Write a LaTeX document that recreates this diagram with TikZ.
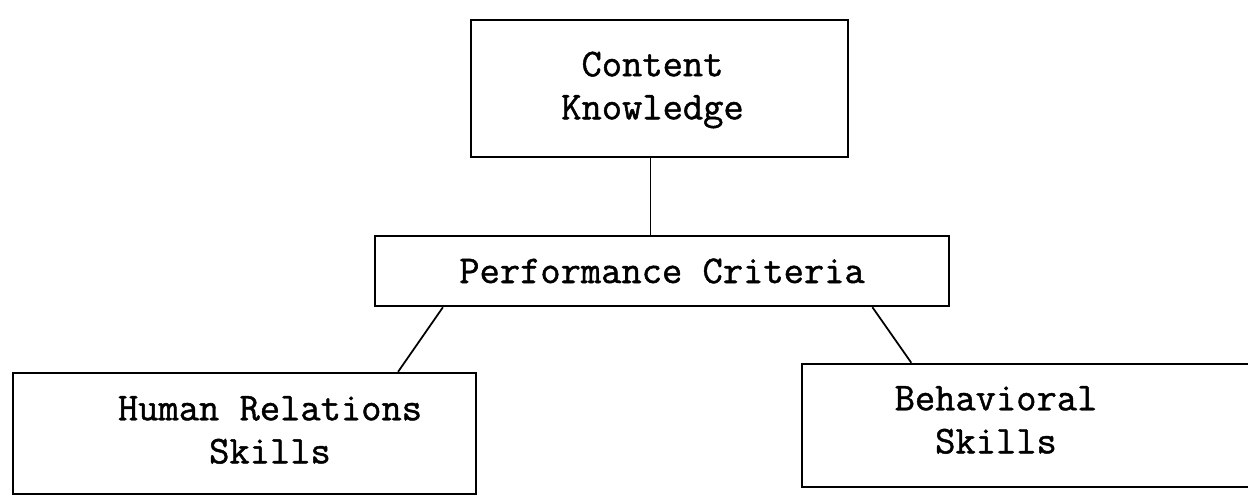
\documentclass[tikz,border=0pt]{standalone}
\usepackage{fontspec}
\newfontfamily\typefont[FakeBold=1.2]{Latin Modern Mono}
\usetikzlibrary{calc}
\tikzset{
  box/.style={draw, rectangle, line width=1.4pt, inner sep=0pt},
  txt/.style={font=\typefont\fontsize{22.4}{24.5}\selectfont, align=center, inner sep=0pt},
  link/.style={line width=1pt}
}
\begin{document}
\begin{tikzpicture}
      \useasboundingbox (0,0) rectangle (24.96,-9.94);
      \node[box, minimum width=7.54cm, minimum height=2.74cm] (content) at (13.19,-1.77) {};
      \node[box, minimum width=11.48cm, minimum height=1.40cm] (perf) at (13.24,-5.42) {};
      \node[box, minimum width=9.26cm, minimum height=2.42cm] (human) at (4.89,-8.67) {};
      \node[box, minimum width=9.16cm, minimum height=2.46cm] (behav) at (20.62,-8.51) {};
      \node[txt] (contenttext) at (13.05,-1.80) {Content\\Knowledge};
      \node[txt] (perftext) at (13.24,-5.42) {Performance Criteria};
      \node[txt] (humantext) at (5.40,-8.60) {Human Relations\\Skills};
      \node[txt] (behavtext) at (19.92,-8.40) {Behavioral\\Skills};
      \begin{scope}[link]
        \draw ($(perf.north west)!0.48!(perf.north east)$) coordinate (pk) -- (pk |- content.south);
        \draw ($(perf.south west)!0.12!(perf.south east)$) -- ($(human.north west)!0.83!(human.north east)$);
        \draw ($(perf.south west)!0.865!(perf.south east)$) -- ($(behav.north west)!0.24!(behav.north east)$);
      \end{scope}
    \end{tikzpicture}
\end{document}
